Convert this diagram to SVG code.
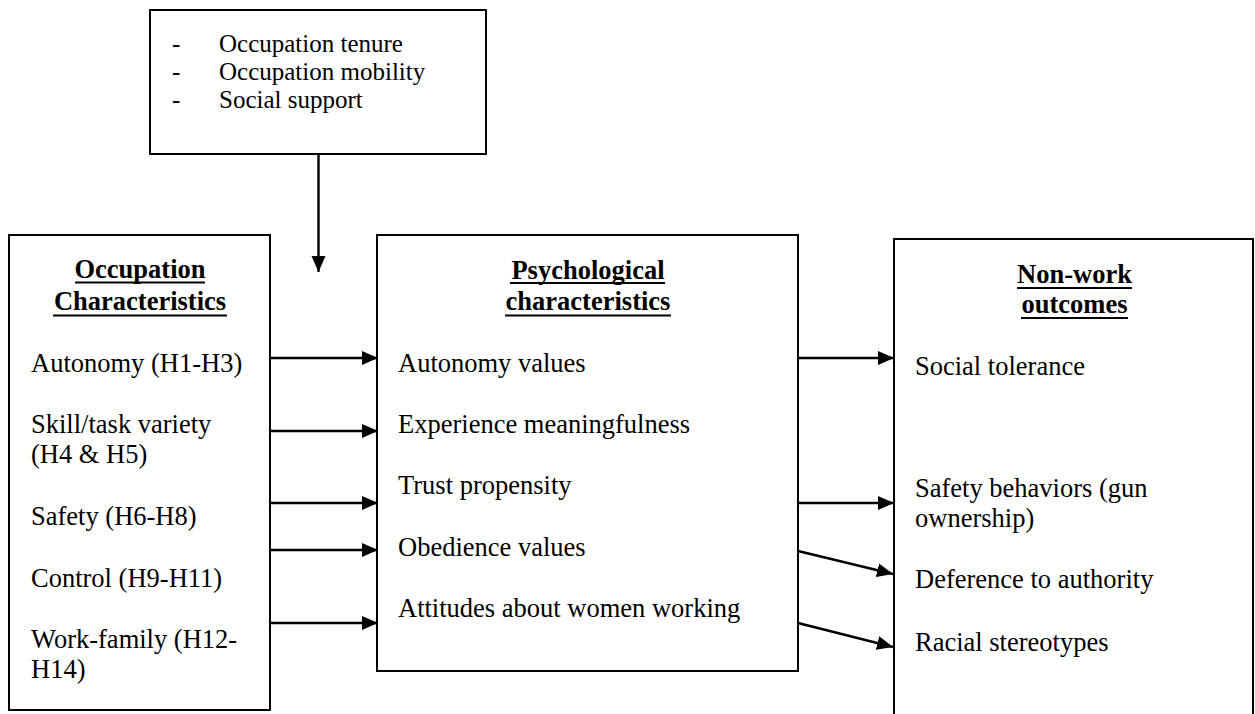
<svg xmlns="http://www.w3.org/2000/svg" width="1255" height="714" viewBox="0 0 1255 714">
  <style>
    .box { fill: #ffffff; stroke: #000000; stroke-width: 2; }
    .txt { font-family: "Liberation Serif", "Times New Roman", serif; font-size: 26.5px; fill: #000000; }
    .list { font-family: "Liberation Serif", "Times New Roman", serif; font-size: 25px; fill: #000000; }
    .head { font-family: "Liberation Serif", "Times New Roman", serif; font-size: 26.5px; font-weight: bold; fill: #000000; text-anchor: middle; }
    .ul { stroke: #000000; stroke-width: 2.2; }
    .conn { stroke: #000000; stroke-width: 2.4; fill: none; marker-end: url(#arrow); }
  </style>
  <defs>
    <marker id="arrow" markerUnits="userSpaceOnUse" markerWidth="16" markerHeight="16" viewBox="0 0 16 16" refX="16" refY="8" orient="auto">
      <path d="M0,1 L16,8 L0,15 Z" fill="#000000"/>
    </marker>
  </defs>
  <rect width="1255" height="714" fill="#ffffff"/>

  <!-- moderators: bulleted list, dashes and labels set as one block -->
  <g id="moderators">
    <rect class="box" x="150" y="10" width="336" height="144"/>
    <text class="list">
      <tspan x="172" y="52">-</tspan><tspan x="219" y="52">Occupation tenure</tspan>
      <tspan x="172" y="80">-</tspan><tspan x="219" y="80">Occupation mobility</tspan>
      <tspan x="172" y="108">-</tspan><tspan x="219" y="108">Social support</tspan>
    </text>
  </g>

  <!-- occupation characteristics -->
  <g id="occupation">
    <rect class="box" x="9" y="235" width="261" height="475"/>
    <text class="head" x="140" y="278">Occupation</text>
    <line class="ul" x1="75" y1="282.5" x2="205" y2="282.5"/>
    <text class="head" x="140" y="310">Characteristics</text>
    <line class="ul" x1="53" y1="315.5" x2="227" y2="315.5"/>
    <text class="txt" x="31" y="372">Autonomy (H1-H3)</text>
    <text class="txt" x="31" y="433">Skill/task variety</text>
    <text class="txt" x="31" y="463">(H4 &amp; H5)</text>
    <text class="txt" x="31" y="525">Safety (H6-H8)</text>
    <text class="txt" x="31" y="587">Control (H9-H11)</text>
    <text class="txt" x="31" y="648">Work-family (H12-</text>
    <text class="txt" x="31" y="678">H14)</text>
  </g>

  <!-- psychological characteristics -->
  <g id="psychological">
    <rect class="box" x="377" y="235" width="421" height="436"/>
    <text class="head" x="588" y="279">Psychological</text>
    <line class="ul" x1="510" y1="283" x2="665" y2="283"/>
    <text class="head" x="588" y="310">characteristics</text>
    <line class="ul" x1="505" y1="315.5" x2="671" y2="315.5"/>
    <text class="txt" x="398" y="372">Autonomy values</text>
    <text class="txt" x="398" y="433">Experience meaningfulness</text>
    <text class="txt" x="398" y="494">Trust propensity</text>
    <text class="txt" x="398" y="556">Obedience values</text>
    <text class="txt" x="398" y="617">Attitudes about women working</text>
  </g>

  <!-- non-work outcomes (box runs past the lower edge) -->
  <g id="outcomes">
    <rect class="box" x="894" y="239" width="359" height="500"/>
    <text class="head" x="1074.5" y="283">Non-work</text>
    <line class="ul" x1="1017" y1="288" x2="1132" y2="288"/>
    <text class="head" x="1074.5" y="313">outcomes</text>
    <line class="ul" x1="1021" y1="318" x2="1128" y2="318"/>
    <text class="txt" x="915" y="375">Social tolerance</text>
    <text class="txt" x="915" y="497">Safety behaviors (gun</text>
    <text class="txt" x="915" y="527">ownership)</text>
    <text class="txt" x="915" y="588">Deference to authority</text>
    <text class="txt" x="915" y="651">Racial stereotypes</text>
  </g>

  <!-- connectors -->
  <g id="connectors">
    <line class="conn" x1="318.5" y1="154" x2="318.5" y2="272"/>
    <line class="conn" x1="270" y1="358" x2="378" y2="358"/>
    <line class="conn" x1="270" y1="431" x2="378" y2="431"/>
    <line class="conn" x1="270" y1="503" x2="378" y2="503"/>
    <line class="conn" x1="270" y1="550" x2="378" y2="550"/>
    <line class="conn" x1="270" y1="623" x2="378" y2="623"/>
    <line class="conn" x1="798" y1="358" x2="894" y2="358"/>
    <line class="conn" x1="798" y1="503" x2="894" y2="503"/>
    <line class="conn" x1="798" y1="551" x2="893" y2="574"/>
    <line class="conn" x1="798" y1="623" x2="893" y2="647"/>
  </g>
</svg>
